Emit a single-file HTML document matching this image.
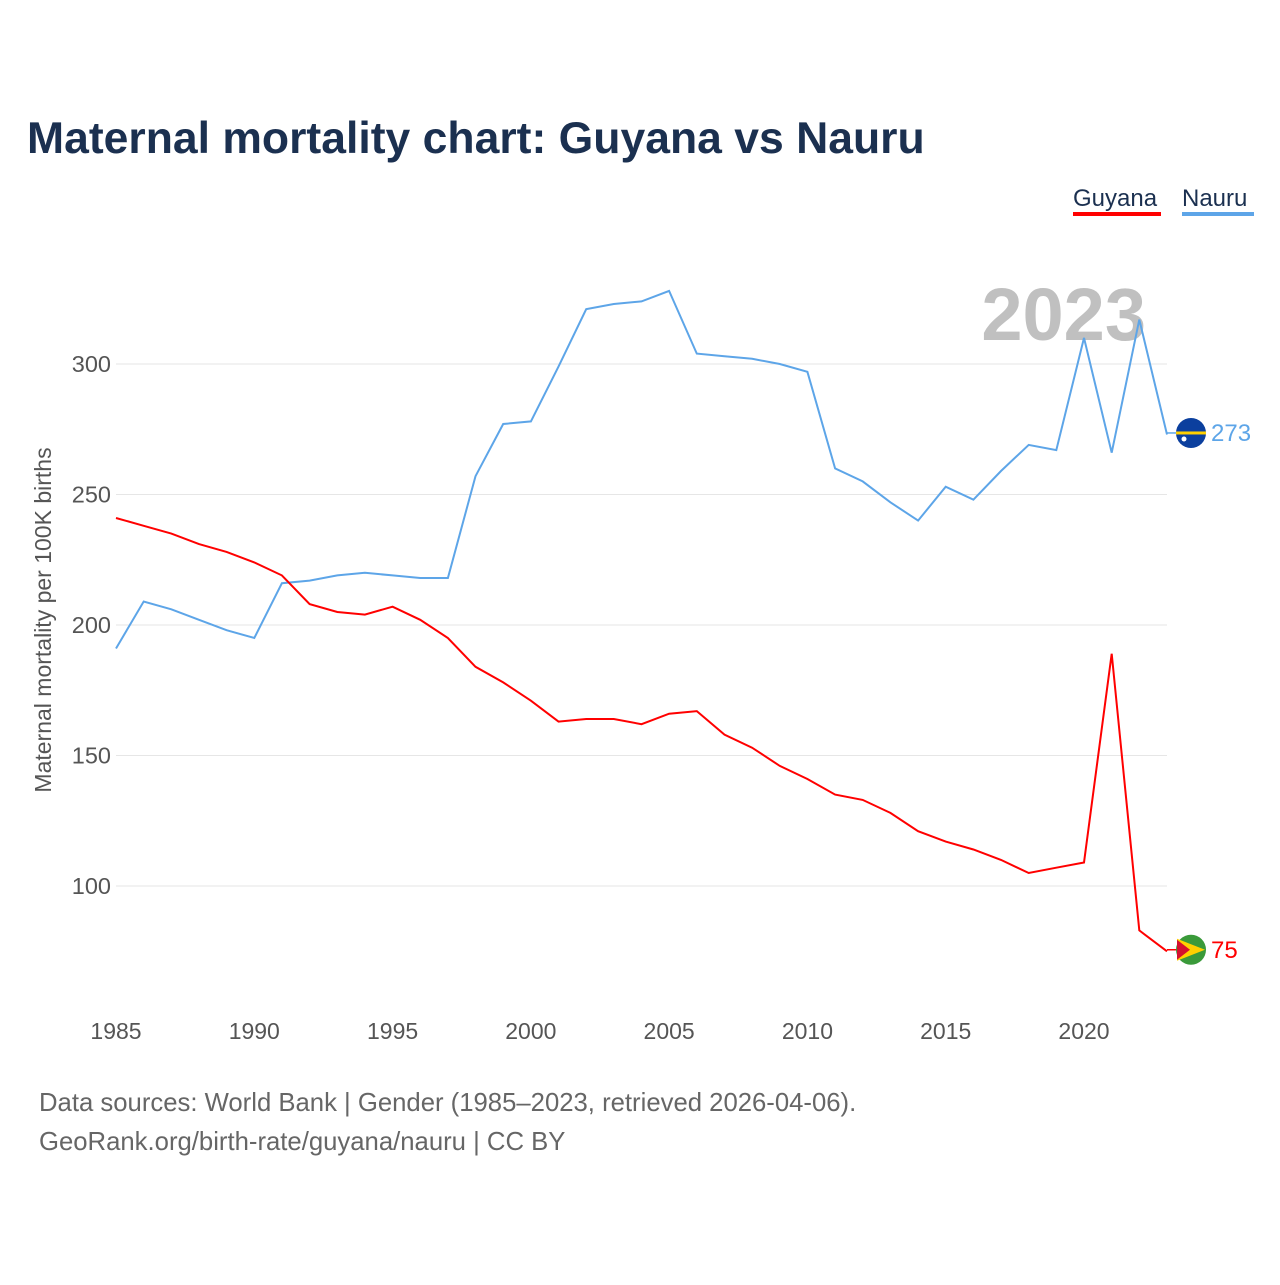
<!DOCTYPE html>
<html><head><meta charset="utf-8"><style>
body{margin:0;background:#fff;font-family:"Liberation Sans",sans-serif}
svg text{font-family:"Liberation Sans",sans-serif}
</style></head><body>
<svg id="chart" width="1280" height="1280" viewBox="0 0 1280 1280">
<text x="27" y="153" font-size="44.5" font-weight="bold" fill="#1b3050">Maternal mortality chart: Guyana vs Nauru</text>
<g><text x="1073" y="206" font-size="24" fill="#1b3050">Guyana</text><rect x="1073" y="212" width="88" height="4" fill="#ff0000"/></g>
<g><text x="1182" y="206" font-size="24" fill="#1b3050">Nauru</text><rect x="1182" y="212" width="72" height="4" fill="#5da5e8"/></g>
<text x="1146" y="340" font-size="74" font-weight="bold" fill="#c0c0c0" text-anchor="end">2023</text>
<g id="grid"></g><g id="yt"></g><g id="xt"></g><g id="lines"></g>
<text transform="translate(51,620) rotate(-90)" font-size="23" fill="#555" text-anchor="middle">Maternal mortality per 100K births</text>
<text x="39" y="1111" font-size="25.7" fill="#666">Data sources: World Bank | Gender (1985–2023, retrieved 2026-04-06).</text>
<text x="39" y="1150" font-size="25.7" fill="#666">GeoRank.org/birth-rate/guyana/nauru | CC BY</text>
</svg>
<script>
const years=[];for(let y=1985;y<=2023;y++)years.push(y);
const guyana=[241,238,235,231,228,224,219,208,205,204,207,202,195,184,178,171,163,164,164,162,166,167,158,153,146,141,135,133,128,121,117,114,110,105,107,109,189,83,75];
const nauru=[191,209,206,202,198,195,216,217,219,220,219,218,218,257,277,278,299,321,323,324,328,304,303,302,300,297,260,255,247,240,253,248,259,269,267,310,266,317,273];
const yTicks=[100,150,200,250,300];
const xTicks=[1985,1990,1995,2000,2005,2010,2015,2020];
const NS="http://www.w3.org/2000/svg";
const x=v=>116+(v-1985)*(968/35);
const y=v=>364+(300-v)*2.61;
function mk(t,a,p){const e=document.createElementNS(NS,t);for(const k in a)e.setAttribute(k,a[k]);p.appendChild(e);return e;}
const g=document.getElementById('grid'),yt=document.getElementById('yt'),xt=document.getElementById('xt'),L=document.getElementById('lines');
yTicks.forEach(v=>{
 const l=mk('line',{x1:116,x2:1167,y1:y(v),y2:y(v),stroke:'#e6e6e6','stroke-width':1},g);
 
 
 const t=mk('text',{x:111,y:y(v)+8,'font-size':23.5,fill:'#555','text-anchor':'end'},yt);t.textContent=v;
 
 
});
xTicks.forEach(v=>{
 const t=mk('text',{x:x(v),y:1039,'font-size':23,fill:'#555','text-anchor':'middle'},xt);t.textContent=v;
 
 
});
function series(vals,col,name){
 const d=vals.map((v,i)=>(i?'L':'M')+x(years[i]).toFixed(1)+','+y(v).toFixed(1)).join('');
 const p=mk('path',{d:d,fill:'none',stroke:col,'stroke-width':2},L);
 
 
 const last=vals[vals.length-1],ly=y(last)-1.5,lx=x(2023);
 mk('line',{x1:lx,x2:lx+12,y1:ly,y2:ly,stroke:col,'stroke-width':1.5},L);
 const c=mk('circle',{cx:1191,cy:ly,r:15,fill:name==='nauru'?'#0b3f9e':'#3a9a3a'},L);
 
 
 if(name==='nauru'){mk('rect',{x:1176,y:ly-1.5,width:30,height:3,fill:'#ffd000'},L);mk('circle',{cx:1184,cy:ly+6,r:2.5,fill:'#fff'},L);}
 else{mk('path',{d:`M1177,${ly-11}L1205,${ly}L1177,${ly+11}Z`,fill:'#ffd000'},L);mk('path',{d:`M1177,${ly-10}L1190,${ly}L1177,${ly+10}Z`,fill:'#d4102e'},L);}
 const t=mk('text',{x:1211,y:ly+8,'font-size':24,fill:col},L);t.textContent=last;
 
 
}
series(nauru,'#5da5e8','nauru');
series(guyana,'#ff0000','guyana');
</script>
</body></html>
